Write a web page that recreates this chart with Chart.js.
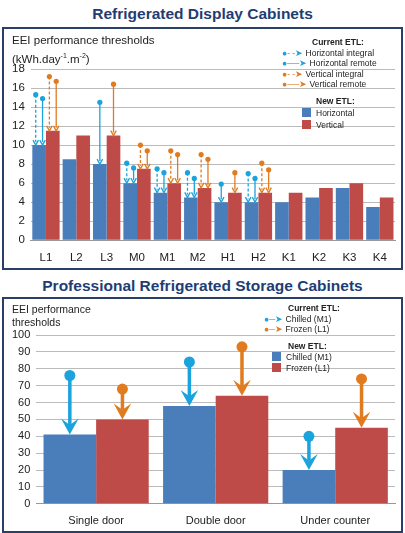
<!DOCTYPE html>
<html><head><meta charset="utf-8">
<script src="https://cdn.jsdelivr.net/npm/chart.js@4"></script>
<style>
body{margin:0;width:405px;height:533px;background:#fff;font-family:Arial,"Liberation Sans",sans-serif;position:relative;overflow:hidden}
.title{position:absolute;left:0;width:405px;text-align:center;font-weight:bold;color:#1f3d73;font-size:15.5px}
.panel{position:absolute;left:2px;width:397px;border:2px solid #2a3f66;background:#fff}
.lab{position:absolute;font-size:11px;color:#222;line-height:13px;white-space:nowrap}
.b{font-weight:bold}
.sq{display:inline-block;width:9px;height:9px;margin-right:5px;vertical-align:-1px}
canvas{position:absolute;left:0;top:0}
</style></head><body>
<div class="title" style="top:5px">Refrigerated Display Cabinets</div>
<div class="panel" style="top:27px;height:239px">
 <canvas id="c1" width="397" height="239"></canvas>
 <div class="lab" style="left:8px;top:4px;font-size:11.5px;line-height:15px">EEI performance thresholds<br>(kWh.day<sup style="font-size:7px">-1</sup>.m<sup style="font-size:7px">-2</sup>)</div>
 <div class="lab" style="left:278px;top:8px;font-size:8.5px;line-height:10.5px">
  <span class="b" style="margin-left:30px">Current ETL:</span><br>
  <span style="color:#1aa3dc">●- -➤</span> Horizontal integral<br>
  <span style="color:#1aa3dc">●──➤</span> Horizontal remote<br>
  <span style="color:#e07b20">●- -➤</span> Vertical integral<br>
  <span style="color:#e07b20">●──➤</span> Vertical remote</div>
 <div class="lab" style="left:298px;top:66px;font-size:8.5px;line-height:12px">
  <span class="b" style="margin-left:14px">New ETL:</span><br>
  <span class="sq" style="background:#4a7ebb"></span>Horizontal<br>
  <span class="sq" style="background:#be4b48"></span>Vertical</div>
</div>
<div class="title" style="top:277px">Professional Refrigerated Storage Cabinets</div>
<div class="panel" style="top:297px;height:232px">
 <canvas id="c2" width="397" height="232"></canvas>
 <div class="lab" style="left:8px;top:4px;font-size:10.5px;line-height:13px">EEI performance<br>thresholds</div>
 <div class="lab" style="left:260px;top:4px;font-size:8.5px;line-height:10.5px">
  <span class="b" style="margin-left:24px">Current ETL:</span><br>
  <span style="color:#1aa3dc">●─➤</span> Chilled (M1)<br>
  <span style="color:#e07b20">●─➤</span> Frozen (L1)</div>
 <div class="lab" style="left:268px;top:42px;font-size:8.5px;line-height:11px">
  <span class="b" style="margin-left:16px">New ETL:</span><br>
  <span class="sq" style="background:#4a7ebb"></span>Chilled (M1)<br>
  <span class="sq" style="background:#be4b48"></span>Frozen (L1)</div>
</div>
<script>
const cats1=["L1","L2","L3","M0","M1","M2","H1","H2","K1","K2","K3","K4"];
const newHoriz=[10,8.5,8,6,5,4.5,4,4,4,4.5,5.5,3.5];
const newVert=[11.5,11,11,7.5,6,5.5,5,5,5,5.5,6,4.5];
const curHorizIntegral=[15.3,null,null,8.1,7.5,7.1,null,7.0,null,null,null,null];
const curHorizRemote=[14.9,null,14.5,7.6,7.1,6.5,5.9,6.5,null,null,null,null];
const curVertIntegral=[17.2,null,null,10,9.4,9.0,null,8.1,null,null,null,null];
const curVertRemote=[16.7,null,16.4,9.4,9.0,8.5,7.1,7.4,null,null,null,null];
const ticks1=[0,2,4,6,8,10,12,14,16,18];

const cats2=["Single door","Double door","Under counter"];
const newChilled=[41,58,20];
const newFrozen=[50,64,45];
const curChilled=[76,84,40];
const curFrozen=[68,93,74];
const ticks2=[0,10,20,30,40,50,60,70,80,90,100];

const BLUE='#4a7ebb',RED='#be4b48',CYAN='#1aa3dc',ORANGE='#e07b20';
Chart.defaults.font.family='Arial, "Liberation Sans", sans-serif';
Chart.defaults.color='#222';

function arrow(ctx,x,y0,y1,col,dashed,lw,head,dot){
  ctx.save();ctx.strokeStyle=col;ctx.fillStyle=col;ctx.lineWidth=lw;
  if(dashed)ctx.setLineDash([3,2]);
  ctx.beginPath();ctx.moveTo(x,y0);ctx.lineTo(x,y1-head*0.6);ctx.stroke();
  ctx.setLineDash([]);
  ctx.beginPath();ctx.moveTo(x-head*0.55,y1-head);ctx.lineTo(x,y1);ctx.lineTo(x+head*0.55,y1-head);
  if(lw>2){ctx.lineTo(x,y1-head*0.6);ctx.closePath();ctx.fill();}else ctx.stroke();
  ctx.beginPath();ctx.arc(x,y0,dot,0,Math.PI*2);ctx.fill();ctx.restore();
}

const arrows1={id:'arr1',afterDatasetsDraw(ch){
  const ctx=ch.ctx,y=ch.scales.y;
  const groups=[[0,curHorizIntegral,curHorizRemote,CYAN],[1,curVertIntegral,curVertRemote,ORANGE]];
  groups.forEach(([di,integ,rem,col])=>{
    const meta=ch.getDatasetMeta(di);const base=ch.data.datasets[di].data;
    meta.data.forEach((bar,i)=>{
      const w=bar.width;const both=integ[i]!=null&&rem[i]!=null;
      if(integ[i]!=null)arrow(ctx,bar.x-(both?w*0.25:0),y.getPixelForValue(integ[i]),y.getPixelForValue(base[i]),col,true,1.3,5,2.6);
      if(rem[i]!=null)arrow(ctx,bar.x+(both?w*0.25:0),y.getPixelForValue(rem[i]),y.getPixelForValue(base[i]),col,false,1.3,5,2.6);
    });
  });
}};
const arrows2={id:'arr2',afterDatasetsDraw(ch){
  const ctx=ch.ctx,y=ch.scales.y;
  [[0,curChilled,CYAN],[1,curFrozen,ORANGE]].forEach(([di,cur,col])=>{
    const meta=ch.getDatasetMeta(di);const base=ch.data.datasets[di].data;
    meta.data.forEach((bar,i)=>arrow(ctx,bar.x,y.getPixelForValue(cur[i]),y.getPixelForValue(base[i]),col,false,3.5,16,5.5));
  });
}};

function opts(max,step,ticks,padTop,fs,xfs){
  return {responsive:false,animation:false,
    layout:{padding:{top:padTop,right:6,left:2,bottom:0}},
    plugins:{legend:{display:false},tooltip:{enabled:false}},
    scales:{
      x:{grid:{display:false},border:{color:'#999'},ticks:{font:{size:xfs},color:'#222'}},
      y:{min:0,max:max,afterBuildTicks:a=>{a.ticks=ticks.map(v=>({value:v}));},
         grid:{color:'#bbb',drawTicks:false},border:{display:false},
         ticks:{font:{size:fs},color:'#222',padding:6}}
    }};
}
new Chart(document.getElementById('c1'),{type:'bar',
  data:{labels:cats1,datasets:[
    {data:newHoriz,backgroundColor:BLUE,categoryPercentage:0.9,barPercentage:1},
    {data:newVert,backgroundColor:RED,categoryPercentage:0.9,barPercentage:1}]},
  options:opts(18,2,ticks1,40,11.5,11.5),plugins:[arrows1]});
new Chart(document.getElementById('c2'),{type:'bar',
  data:{labels:cats2,datasets:[
    {data:newChilled,backgroundColor:BLUE,categoryPercentage:0.88,barPercentage:1},
    {data:newFrozen,backgroundColor:RED,categoryPercentage:0.88,barPercentage:1}]},
  options:opts(100,10,ticks2,36,11,11),plugins:[arrows2]});
</script></body></html>
